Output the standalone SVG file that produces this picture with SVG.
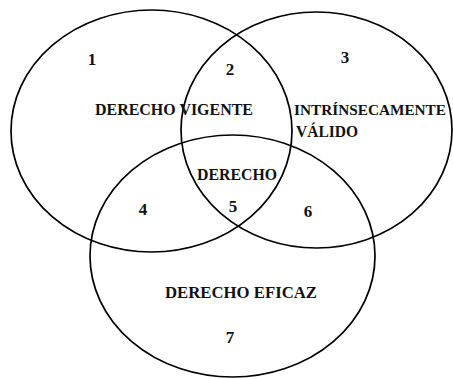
<svg xmlns="http://www.w3.org/2000/svg" width="453" height="379" viewBox="0 0 453 379">
<style>
.c{fill:none;stroke:#000;stroke-width:1.7}
.t{font-family:"Liberation Serif","Times New Roman",serif;font-size:17px;font-weight:bold;fill:#111;}
.n{font-family:"Liberation Serif","Times New Roman",serif;font-size:17px;font-weight:bold;fill:#111;text-anchor:middle}
</style>
<rect width="453" height="379" fill="#fff"/>
<g id="connectors"></g>
<g id="vigente">
<ellipse class="c" cx="151.5" cy="131" rx="140.5" ry="121"/>
<text class="n" x="92" y="65">1</text>
</g>
<g id="valido">
<ellipse class="c" cx="316.5" cy="130" rx="135.5" ry="118"/>
<text class="n" x="345" y="63">3</text>
<text class="t" x="294" y="115" textLength="152" lengthAdjust="spacingAndGlyphs" style="font-size:15px">INTRÍNSECAMENTE</text>
<text class="t" x="296" y="137" textLength="62" lengthAdjust="spacingAndGlyphs">VÁLIDO</text>
</g>
<g id="eficaz">
<ellipse class="c" cx="232.5" cy="256" rx="142.5" ry="121"/>
<text class="t" x="165" y="298" textLength="152" lengthAdjust="spacingAndGlyphs">DERECHO EFICAZ</text>
<text class="n" x="230" y="343">7</text>
</g>
<g id="labels">
<text class="t" x="95" y="115" textLength="158" lengthAdjust="spacingAndGlyphs">DERECHO VIGENTE</text>
<text class="n" x="230" y="75">2</text>
<text class="t" x="197" y="180" textLength="80" lengthAdjust="spacingAndGlyphs">DERECHO</text>
<text class="n" x="143" y="215">4</text>
<text class="n" x="233" y="212">5</text>
<text class="n" x="308" y="217">6</text>
</g>
</svg>
